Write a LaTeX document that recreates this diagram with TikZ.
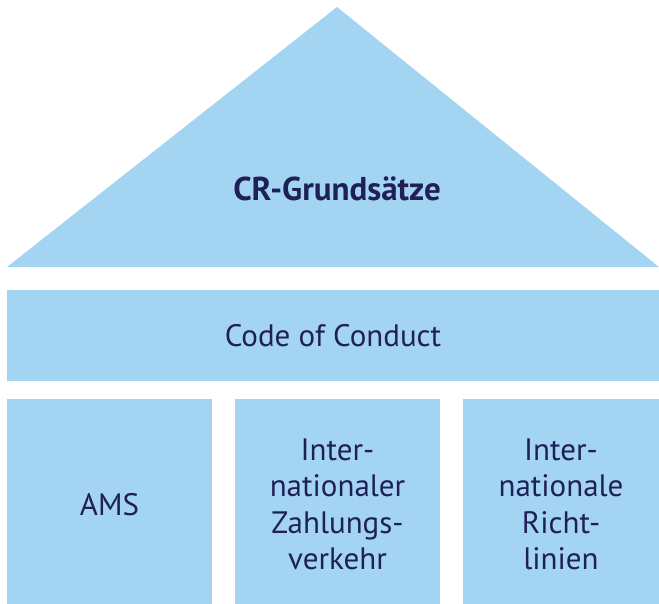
\documentclass[tikz,border=0pt]{standalone}
\usepackage{fontspec}
\setmainfont{PT Sans}
\usepackage{tikz}
\usetikzlibrary{positioning}
\definecolor{crBlue}{RGB}{163, 213, 243}
\definecolor{crNavy}{RGB}{32, 32, 88}
\tikzset{
    base/.style={
        font=\fontsize{31}{36.5}\selectfont,
        text=crNavy,
        align=center
    },
    roof/.style={
        fill=crBlue
    },
    title/.style={
        base,
        font=\fontsize{33}{36}\selectfont\bfseries
    },
    beam/.style={
        base,
        rectangle,
        fill=crBlue,
        inner sep=0pt,
        outer sep=0pt,
        minimum width=652pt,
        minimum height=91pt
    },
    pillar/.style={
        rectangle,
        fill=crBlue,
        inner sep=0pt,
        outer sep=0pt,
        minimum height=205pt
    }
}
\begin{document}
\begin{tikzpicture}[x=1pt, y=-1pt]
    \useasboundingbox (0,0) rectangle (659,604);

    % Roof
    \fill[roof] (7,267) -- (659,267) -- (337,7) -- cycle;
    \node[title] (grund) at (337,189) {CR-Grundsätze};

    % Beam
    \node[beam] (code) at (333,335.5) {Code of Conduct};

    % Pillars
    \node[pillar, minimum width=205pt] (ams) at (109.5,501.5) {};
    \node[pillar, minimum width=205pt] (zahl) at (337.5,501.5) {};
    \node[pillar, minimum width=196pt] (richt) at (561,501.5) {};
    \node[base] (amstext) at ([yshift=-3pt]ams.center) {AMS};
    \node[base] (zahltext) at ([yshift=-3pt]zahl.center) {Inter-\\nationaler\\Zahlungs-\\verkehr};
    \node[base] (richttext) at ([yshift=-3pt]richt.center) {Inter-\\nationale\\Richt-\\linien};

\end{tikzpicture}
\end{document}
